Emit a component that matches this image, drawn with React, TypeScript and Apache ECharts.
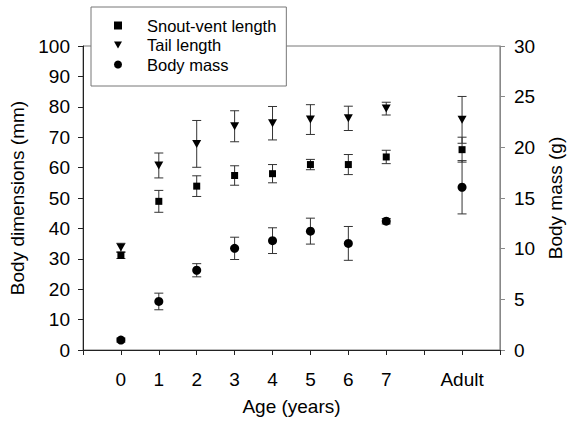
import React, { useEffect, useRef } from "react";
import * as echarts from "echarts";

const ages = [0, 1, 2, 3, 4, 5, 6, 7, 9];
const xTickLabels: Record<number, string> = { 0: "0", 1: "1", 2: "2", 3: "3", 4: "4", 5: "5", 6: "6", 7: "7", 9: "Adult" };
const svlMean = [31.1, 48.9, 53.9, 57.4, 58.0, 61.0, 61.0, 63.5, 65.9];
const svlSd = [1.0, 3.6, 3.4, 3.2, 3.0, 1.7, 3.3, 2.2, 4.1];
const tailMean = [33.7, 60.7, 67.8, 73.6, 74.6, 75.8, 76.2, 79.4, 75.7];
const tailSd = [1.4, 4.1, 7.7, 5.1, 5.5, 4.9, 4.0, 2.1, 7.7];
const massMean = [0.98, 4.79, 7.87, 10.03, 10.79, 11.73, 10.52, 12.71, 16.06];
const massSd = [0.2, 0.82, 0.65, 1.1, 1.27, 1.28, 1.67, 0.27, 2.63];

const FONT = "Liberation Sans, Arial, sans-serif";
const AX_FONT = 19;
const DOWN_TRIANGLE = "path://M0,0 L10,0 L5,9 Z";

function points(means: number[]) {
  return ages.map((a, i) => [a, means[i]]);
}
function bars(means: number[], sds: number[]) {
  return ages.map((a, i) => [a, means[i] - sds[i], means[i] + sds[i]]);
}

function errorSeries(name: string, data: number[][], yAxisIndex: number) {
  return {
    type: "custom",
    name: name + " err",
    yAxisIndex,
    data,
    z: 1,
    silent: true,
    renderItem: (params: any, api: any) => {
      const x = api.value(0);
      const lo = api.coord([x, api.value(1)]);
      const hi = api.coord([x, api.value(2)]);
      const hw = 4.5;
      const style = { stroke: "#333", lineWidth: 1 };
      return {
        type: "group",
        children: [
          { type: "line", shape: { x1: lo[0], y1: lo[1], x2: hi[0], y2: hi[1] }, style },
          { type: "line", shape: { x1: lo[0] - hw, y1: lo[1], x2: lo[0] + hw, y2: lo[1] }, style },
          { type: "line", shape: { x1: hi[0] - hw, y1: hi[1], x2: hi[0] + hw, y2: hi[1] }, style },
        ],
      };
    },
  };
}

export default function App() {
  const ref = useRef<HTMLDivElement>(null);
  useEffect(() => {
    if (!ref.current) return;
    const chart = echarts.init(ref.current, undefined, { renderer: "svg" });
    chart.setOption({
      animation: false,
      backgroundColor: "#fff",
      textStyle: { fontFamily: FONT },
      grid: {
        left: 83,
        right: 65,
        top: 46,
        bottom: 70,
        show: true,
        borderColor: "#777",
        borderWidth: 1,
      },
      legend: {
        orient: "vertical",
        left: 91,
        top: 7,
        padding: [10, 10, 13, 23],
        itemGap: 2.5,
        itemWidth: 8,
        itemHeight: 8,
        backgroundColor: "#fff",
        borderColor: "#777",
        borderWidth: 1,
        data: ["Snout-vent length", "Tail length", "Body mass"],
        textStyle: { fontFamily: FONT, fontSize: 16.5, color: "#000", lineHeight: 16, padding: [0, 0, 0, 20] },
      },
      xAxis: {
        type: "value",
        min: -1,
        max: 10,
        interval: 1,
        name: "Age (years)",
        nameLocation: "middle",
        nameGap: 47,
        nameTextStyle: { fontFamily: FONT, fontSize: AX_FONT, color: "#000" },
        axisLine: { onZero: false, lineStyle: { color: "#222", width: 1 } },
        axisTick: { inside: false, length: 5, lineStyle: { color: "#222" } },
        splitLine: { show: false },
        axisLabel: {
          margin: 20,
          fontFamily: FONT,
          fontSize: AX_FONT,
          color: "#000",
          formatter: (v: number) => xTickLabels[v] ?? "",
        },
      },
      yAxis: [
        {
          type: "value",
          min: 0,
          max: 100,
          interval: 10,
          position: "left",
          name: "Body dimensions (mm)",
          nameLocation: "middle",
          nameGap: 56,
          nameTextStyle: { fontFamily: FONT, fontSize: AX_FONT, color: "#000" },
          axisLine: { show: true, onZero: false, lineStyle: { color: "#222", width: 1 } },
          axisTick: { show: true, inside: false, length: 5, lineStyle: { color: "#222" } },
          splitLine: { show: false },
          axisLabel: { margin: 13, fontFamily: FONT, fontSize: AX_FONT, color: "#000" },
        },
        {
          type: "value",
          min: 0,
          max: 30,
          interval: 5,
          position: "right",
          name: "Body mass (g)",
          nameLocation: "middle",
          nameGap: 40,
          nameTextStyle: { fontFamily: FONT, fontSize: AX_FONT, color: "#000" },
          axisLine: { show: true, onZero: false, lineStyle: { color: "#888", width: 1 } },
          axisTick: { show: true, inside: false, length: 5, lineStyle: { color: "#888" } },
          splitLine: { show: false },
          axisLabel: { margin: 14, fontFamily: FONT, fontSize: AX_FONT, color: "#000" },
        },
      ],
      series: [
        errorSeries("Snout-vent length", bars(svlMean, svlSd), 0),
        errorSeries("Tail length", bars(tailMean, tailSd), 0),
        errorSeries("Body mass", bars(massMean, massSd), 1),
        {
          type: "scatter",
          name: "Snout-vent length",
          yAxisIndex: 0,
          symbol: "rect",
          symbolSize: 7,
          itemStyle: { color: "#000", opacity: 1 },
          data: points(svlMean),
          z: 3,
        },
        {
          type: "scatter",
          name: "Tail length",
          yAxisIndex: 0,
          symbol: DOWN_TRIANGLE,
          symbolSize: [9, 8],
          itemStyle: { color: "#000", opacity: 1 },
          data: points(tailMean),
          z: 3,
        },
        {
          type: "scatter",
          name: "Body mass",
          yAxisIndex: 1,
          symbol: "circle",
          symbolSize: 9,
          itemStyle: { color: "#000", opacity: 1 },
          data: points(massMean),
          z: 3,
        },
      ],
    });
    return () => chart.dispose();
  }, []);
  return <div ref={ref} style={{ width: 573, height: 421, position: "absolute", left: 0, top: 0 }} />;
}
